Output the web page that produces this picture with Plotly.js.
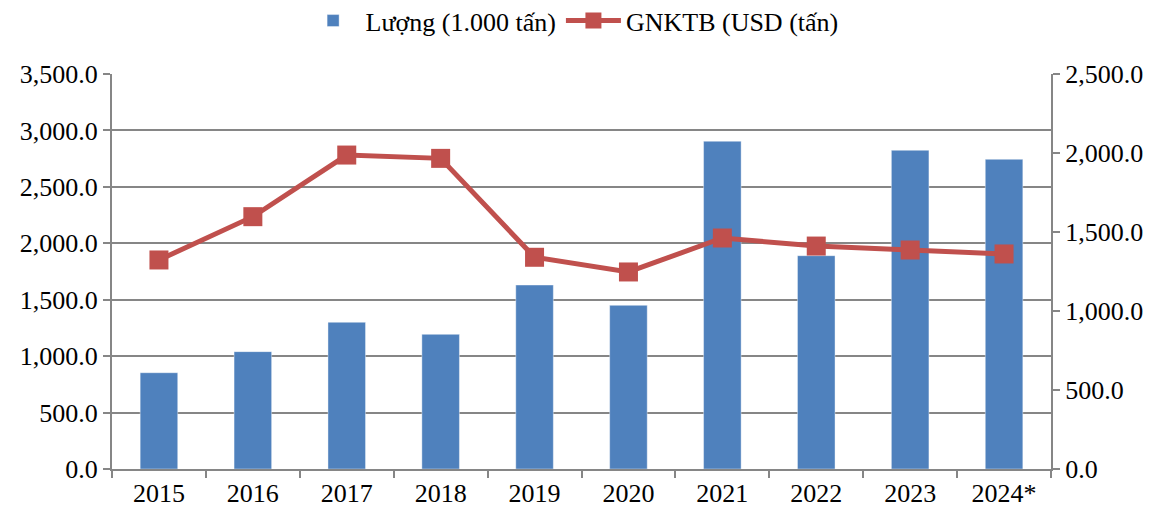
<!DOCTYPE html>
<html>
<head>
<meta charset="utf-8">
<script src="https://cdn.plot.ly/plotly-3.0.1.min.js"></script>
<style>
  body { margin: 0; background: #fff; }
  #chart { width: 1165px; height: 515px; }
</style>
</head>
<body>
<div id="chart"></div>
<script>
const years = ["2015", "2016", "2017", "2018", "2019", "2020", "2021", "2022", "2023", "2024*"];
const volume = [853, 1040, 1300, 1193, 1630, 1450, 2904, 1890, 2824, 2744];   // Lượng (1.000 tấn)
const price = [1323, 1597, 1987, 1966, 1340, 1247, 1462, 1411, 1386, 1361];   // GNKTB (USD/tấn)

const gray = "#868686";
const font = "Liberation Serif";

const data = [{
    x: years,
    y: volume,
    type: "bar",
    name: "Lượng (1.000 tấn)",
    marker: {color: "#4F81BD", line: {color: "rgba(255,255,255,0.4)", width: 1}}
}, {
    x: years,
    y: price,
    type: "scatter",
    mode: "lines+markers",
    name: "GNKTB (USD (tấn)",
    yaxis: "y2",
    line: {color: "#C0504D", width: 5},
    marker: {symbol: "square", size: 19, color: "#C0504D"}
}];

const layout = {
    width: 1165,
    height: 515,
    margin: {l: 112, r: 114, t: 74, b: 46, autoexpand: false},
    paper_bgcolor: "#fff",
    plot_bgcolor: "#fff",
    font: {family: font, size: 26, color: "#000"},
    bargap: 0.6,
    showlegend: true,
    legend: {
        orientation: "h",
        x: 0.49, xanchor: "center",
        y: 1.135, yanchor: "middle",
        font: {family: font, size: 26},
        itemwidth: 55,
        traceorder: "normal"
    },
    xaxis: {
        type: "category",
        range: [-0.5, years.length - 0.5],
        showline: true, linecolor: gray, linewidth: 2,
        ticks: "outside", tickson: "boundaries", ticklen: 7, tickcolor: gray, tickwidth: 2,
        showgrid: false, zeroline: false,
        tickfont: {family: font, size: 26}
    },
    yaxis: {
        range: [0, 3500], dtick: 500, tickformat: ",.1f",
        showline: true, linecolor: gray, linewidth: 2,
        ticks: "outside", ticklen: 7, tickcolor: gray, tickwidth: 2,
        gridcolor: gray, gridwidth: 2, zeroline: false,
        tickfont: {family: font, size: 26}
    },
    yaxis2: {
        overlaying: "y", side: "right",
        range: [0, 2500], dtick: 500, tickformat: ",.1f",
        showline: true, linecolor: gray, linewidth: 2,
        ticks: "outside", ticklen: 7, tickcolor: gray, tickwidth: 2,
        showgrid: false, zeroline: false,
        tickfont: {family: font, size: 26}
    }
};

Plotly.newPlot("chart", data, layout, {staticPlot: true});
</script>
</body>
</html>
